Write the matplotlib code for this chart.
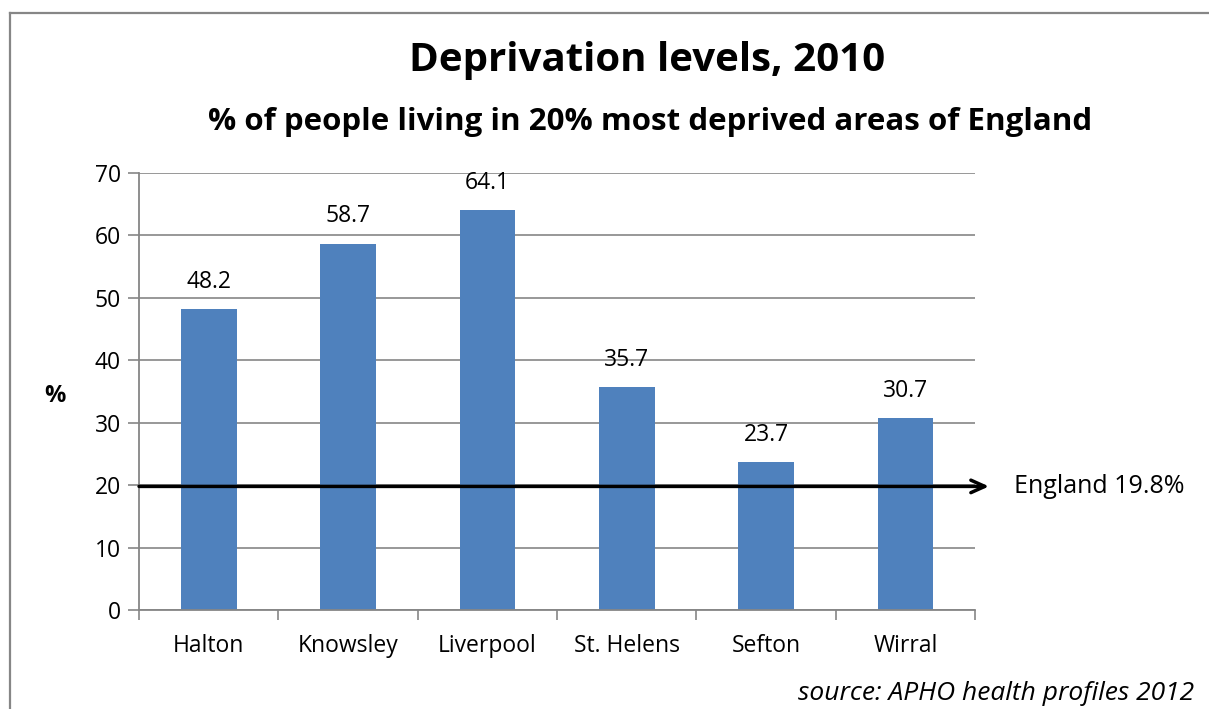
import matplotlib.pyplot as plt
from matplotlib.lines import Line2D

plt.rcParams['font.family'] = ['Open Sans', 'DejaVu Sans']

areas = ['Halton', 'Knowsley', 'Liverpool', 'St. Helens', 'Sefton', 'Wirral']
pct_deprived = [48.2, 58.7, 64.1, 35.7, 23.7, 30.7]
england_pct = 19.8
y_ticks = [0, 10, 20, 30, 40, 50, 60, 70]

fig = plt.figure(figsize=(12.09, 7.09), dpi=100)
ax = fig.add_axes([0.115, 0.1396, 0.6915, 0.6164])

grey = '#868686'
x = range(len(areas))
ax.bar(x, pct_deprived, width=0.4, color='#4F81BD', zorder=2)
for xi, v in zip(x, pct_deprived):
    ax.annotate(f'{v:.1f}', (xi, v), xytext=(0, 11), textcoords='offset points',
                ha='center', va='bottom', fontsize=16.5)

ax.set_xlim(-0.5, len(areas) - 0.5)
ax.set_ylim(0, 70)
ax.set_yticks(y_ticks)
ax.yaxis.grid(True, color=grey, linewidth=1.2, zorder=0)
ax.set_axisbelow(True)

# category labels centred, ticks between the categories
ax.set_xticks(list(x))
ax.set_xticklabels(areas, fontsize=16.5)
ax.set_xticks([i - 0.5 for i in range(len(areas) + 1)], minor=True)
ax.tick_params(axis='x', which='major', length=0, pad=17)
ax.tick_params(axis='x', which='minor', length=7, width=1.2, color=grey, direction='out')
ax.tick_params(axis='y', length=8, width=1.2, color=grey, labelsize=16.5, pad=5)

for s in ['top', 'right']:
    ax.spines[s].set_visible(False)
for s in ['left', 'bottom']:
    ax.spines[s].set_color(grey)
    ax.spines[s].set_linewidth(1.3)

ax.set_ylabel('%', rotation=0, fontsize=17, fontweight='bold', va='center', ha='center')
ax.yaxis.set_label_coords(-0.1, 0.49)

# England average arrow
ax.annotate('', xy=(len(areas) - 0.4, england_pct), xytext=(-0.5, england_pct),
            arrowprops=dict(arrowstyle='->,head_length=1.0,head_width=0.45',
                            color='black', lw=2.5, shrinkA=0, shrinkB=0),
            annotation_clip=False, zorder=5)
ax.text(len(areas) - 0.22, england_pct, 'England 19.8%', fontsize=18,
        va='center', ha='left')

fig.text(0.535, 0.915, 'Deprivation levels, 2010', ha='center', va='center',
         fontsize=29, fontweight='bold')
fig.text(0.538, 0.828, '% of people living in 20% most deprived areas of England',
         ha='center', va='center', fontsize=22.5, fontweight='bold')
fig.text(0.988, 0.022, 'source: APHO health profiles 2012', ha='right',
         va='center', fontsize=19, style='italic')

# chart frame
fig.add_artist(Line2D([10 / 1209, 10 / 1209], [0, 1 - 13 / 709], color=grey, lw=1.6))
fig.add_artist(Line2D([10 / 1209, 1], [1 - 13 / 709, 1 - 13 / 709], color=grey, lw=1.6))

fig.savefig('out.png', dpi=100)
